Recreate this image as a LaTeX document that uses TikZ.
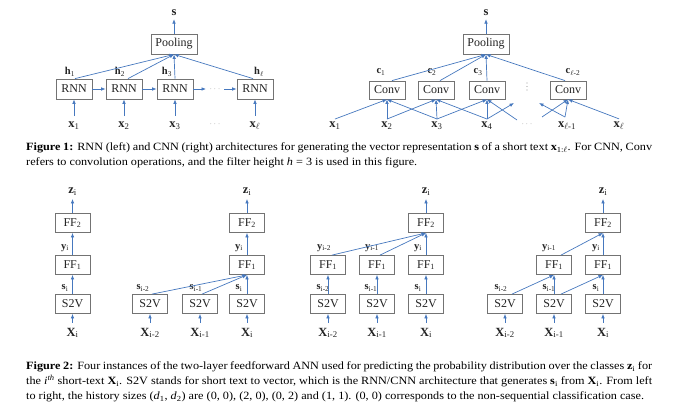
\documentclass[tikz,border=0pt]{standalone}
\usepackage{fontspec}
\setmainfont{Liberation Serif}
\newfontfamily\capfont[FakeStretch=1.1]{Liberation Serif}
\usetikzlibrary{arrows.meta,calc}
\definecolor{arrblue}{RGB}{70,120,190}
\definecolor{boxgray}{RGB}{115,115,115}
\definecolor{txt}{RGB}{35,35,35}
\definecolor{dotgray}{RGB}{160,160,160}
\begin{document}
\begin{tikzpicture}[x=1pt,y=-1pt,
 box/.style={draw=boxgray,line width=0.8pt,inner sep=0pt,minimum height=19pt,minimum width=35pt,font=\fontsize{12}{14}\selectfont,text=txt},
 arr/.style={draw=arrblue,line width=0.7pt,-{Latex[length=4.5pt,width=3.6pt]}},
 biglbl/.style={inner sep=0pt,font=\fontsize{12.5}{14}\selectfont,text=txt},
 smalllbl/.style={inner sep=0pt,font=\fontsize{10.5}{12}\selectfont,text=txt},
 dotlbl/.style={inner sep=0pt,font=\fontsize{9}{10}\selectfont,text=dotgray},
 captext/.style={anchor=north west,inner sep=0pt,text width=626pt,align=justify,font=\capfont\fontsize{11.1}{15}\selectfont,text=black},
]
\useasboundingbox (0,0) rectangle (674,409);

% ---------------- Figure 1 left: RNN ----------------
\node[box,minimum width=46pt,minimum height=20pt] (pl) at (174,44) {Pooling};
\node[biglbl] (sl) at (174,13) {\textbf{s}};
\draw[arr] (pl.north) -- ([yshift=-3pt]sl.south);
\foreach \n/\x in {1/74,2/124,3/175,4/255}
  \node[box,minimum width=36pt,minimum height=20pt] (r\n) at (\x,89) {RNN};
\node[smalllbl] at (70,72) {\textbf{h}\textsubscript{1}};
\node[smalllbl] at (120,72) {\textbf{h}\textsubscript{2}};
\node[smalllbl] at (167,72) {\textbf{h}\textsubscript{3}};
\node[smalllbl] at (259,72) {\textbf{h}\textsubscript{$\ell$}};
\draw[arr] ([xshift=1pt]r1.north) -- (pl.south);
\draw[arr] ([xshift=4pt]r2.north) -- (pl.south);
\draw[arr] (r3.north) -- (pl.south);
\draw[arr] ([xshift=-2pt]r4.north) -- (pl.south);
\draw[arr] (r1.east) -- (r2.west);
\draw[arr] (r2.east) -- (r3.west);
\coordinate (d1) at (206,89);
\coordinate (d2) at (224,89);
\draw[arr] (r3.east) -- (d1);
\node[dotlbl] (dd) at (215,89) {$\cdots$};
\draw[arr] (d2) -- (r4.west);
\node[biglbl] (x1) at (74,126) {\textbf{x}\textsubscript{1}};
\node[biglbl] (x2) at (124,126) {\textbf{x}\textsubscript{2}};
\node[biglbl] (x3) at (175,126) {\textbf{x}\textsubscript{3}};
\node[biglbl] (x4) at (255,126) {\textbf{x}\textsubscript{$\ell$}};
\node[dotlbl] (xd) at (215,124) {$\cdots$};
\foreach \n in {1,2,3,4} \draw[arr] ([yshift=6pt]x\n.north) -- (r\n.south);

% ---------------- Figure 1 right: CNN ----------------
\node[box,minimum width=46pt,minimum height=20pt] (pr) at (486,44) {Pooling};
\node[biglbl] (sr) at (486,13) {\textbf{s}};
\draw[arr] (pr.north) -- ([yshift=-3pt]sr.south);
\foreach \n/\x in {1/387,2/436,3/487,4/568}
  \node[box,minimum width=36pt,minimum height=18pt] (c\n) at (\x,90) {Conv};
\node[smalllbl] at (381,72) {\textbf{c}\textsubscript{1}};
\node[smalllbl] at (432,72) {\textbf{c}\textsubscript{2}};
\node[smalllbl] at (478,72) {\textbf{c}\textsubscript{3}};
\node[smalllbl] at (573,72) {\textbf{c}\textsubscript{$\ell$-2}};
\draw[arr] ([xshift=5pt]c1.north) -- (pr.south);
\draw[arr] ([xshift=4pt]c2.north) -- (pr.south);
\draw[arr] (c3.north) -- (pr.south);
\draw[arr] ([xshift=-3pt]c4.north) -- (pr.south);
\foreach \yy in {83,86.5,90} \fill[dotgray] (527,\yy) circle (0.55pt);
\node[biglbl] (y1) at (335,126) {\textbf{x}\textsubscript{1}};
\node[biglbl] (y2) at (387,126) {\textbf{x}\textsubscript{2}};
\node[biglbl] (y3) at (437,126) {\textbf{x}\textsubscript{3}};
\node[biglbl] (y4) at (487,126) {\textbf{x}\textsubscript{4}};
\node[dotlbl] (yd) at (527,124) {$\cdots$};
\node[biglbl] (y5) at (567,126) {\textbf{x}\textsubscript{$\ell$-1}};
\node[biglbl] (y6) at (619,126) {\textbf{x}\textsubscript{$\ell$}};
\coordinate (p1) at ([yshift=3pt]y1.north);
\coordinate (p2) at ([yshift=3pt]y2.north);
\coordinate (p3) at ([yshift=3pt]y3.north);
\coordinate (p4) at ([yshift=3pt]y4.north);
\coordinate (p5) at (565,117);
\coordinate (p6) at ([yshift=3pt]y6.north);
\coordinate (f1) at (514,103);
\coordinate (f2) at (517,120);
\coordinate (f3) at (542,117);
\coordinate (f4) at (539,103);
\draw[arr] (p1) -- (c1.south);
\draw[arr] (p2) -- (c1.south);
\draw[arr] (p3) -- (c1.south);
\draw[arr] (p2) -- (c2.south);
\draw[arr] (p3) -- (c2.south);
\draw[arr] (p4) -- (c2.south);
\draw[arr] (p3) -- (c3.south);
\draw[arr] (p4) -- (c3.south);
\draw[arr] (f2) -- (c3.south);
\draw[arr] (p4) -- (f1);
\draw[arr] (f3) -- (c4.south);
\draw[arr] (p5) -- (c4.south);
\draw[arr] (p6) -- (c4.south);
\draw[arr] (p5) -- (f4);

% ---------------- Figure 1 caption ----------------
\node[captext] (cap1) at (26,142.5) {\textbf{Figure 1:} RNN (left) and CNN (right) architectures for generating the vector representation \textbf{s} of a short text \textbf{x}\textsubscript{1:$\ell$}. For CNN, Conv\linebreak refers to convolution operations, and the filter height \textit{h} = 3 is used in this figure.};

% ---------------- Figure 2 panel 1 ----------------
\node[box] (a2) at (72.5,223) {FF\textsubscript{2}};
\node[box] (a1) at (72.5,265) {FF\textsubscript{1}};
\node[box] (a0) at (72.5,304) {S2V};
\node[biglbl] (az) at (72.5,192) {\textbf{z}\textsubscript{i}};
\node[biglbl] (ax) at (72.5,333) {\textbf{X}\textsubscript{i}};
\node[smalllbl] at (65,248) {\textbf{y}\textsubscript{i}};
\node[smalllbl] at (65,288) {\textbf{s}\textsubscript{i}};
\draw[arr] ([yshift=5pt]ax.north) -- (a0.south);
\draw[arr] (a0.north) -- (a1.south);
\draw[arr] (a1.north) -- (a2.south);
\draw[arr] (a2.north) -- ([yshift=-3pt]az.south);

% ---------------- Figure 2 panel 2 ----------------
\node[box] (b2) at (247,223) {FF\textsubscript{2}};
\node[box] (b1) at (247,265) {FF\textsubscript{1}};
\node[box] (bs2) at (150,304) {S2V};
\node[box] (bs1) at (200,304) {S2V};
\node[box] (bs0) at (247,304) {S2V};
\node[biglbl] (bz) at (247,192) {\textbf{z}\textsubscript{i}};
\node[biglbl] (bx2) at (150,333) {\textbf{X}\textsubscript{i-2}};
\node[biglbl] (bx1) at (200,333) {\textbf{X}\textsubscript{i-1}};
\node[biglbl] (bx0) at (247,333) {\textbf{X}\textsubscript{i}};
\node[smalllbl] at (239,248) {\textbf{y}\textsubscript{i}};
\node[smalllbl] at (143,288) {\textbf{s}\textsubscript{i-2}};
\node[smalllbl] at (196,288) {\textbf{s}\textsubscript{i-1}};
\node[smalllbl] at (239,288) {\textbf{s}\textsubscript{i}};
\foreach \n in {2,1,0} \draw[arr] ([yshift=5pt]bx\n.north) -- (bs\n.south);
\draw[arr] ([xshift=2pt]bs2.north) -- (b1.south);
\draw[arr] ([xshift=2pt]bs1.north) -- (b1.south);
\draw[arr] (bs0.north) -- (b1.south);
\draw[arr] (b1.north) -- (b2.south);
\draw[arr] (b2.north) -- ([yshift=-3pt]bz.south);

% ---------------- Figure 2 panel 3 ----------------
\node[box] (c2f) at (426,223) {FF\textsubscript{2}};
\node[box] (cf2) at (328,265) {FF\textsubscript{1}};
\node[box] (cf1) at (377,265) {FF\textsubscript{1}};
\node[box] (cf0) at (426,265) {FF\textsubscript{1}};
\node[box] (cs2) at (328,304) {S2V};
\node[box] (cs1) at (377,304) {S2V};
\node[box] (cs0) at (426,304) {S2V};
\node[biglbl] (cz) at (426,192) {\textbf{z}\textsubscript{i}};
\node[biglbl] (cx2) at (328,333) {\textbf{X}\textsubscript{i-2}};
\node[biglbl] (cx1) at (377,333) {\textbf{X}\textsubscript{i-1}};
\node[biglbl] (cx0) at (426,333) {\textbf{X}\textsubscript{i}};
\node[smalllbl] at (324,248) {\textbf{y}\textsubscript{i-2}};
\node[smalllbl] at (372,248) {\textbf{y}\textsubscript{i-1}};
\node[smalllbl] at (418,248) {\textbf{y}\textsubscript{i}};
\node[smalllbl] at (323,288) {\textbf{s}\textsubscript{i-2}};
\node[smalllbl] at (371,288) {\textbf{s}\textsubscript{i-1}};
\node[smalllbl] at (418,288) {\textbf{s}\textsubscript{i}};
\foreach \n in {2,1,0} {
  \draw[arr] ([yshift=5pt]cx\n.north) -- (cs\n.south);
  \draw[arr] (cs\n.north) -- (cf\n.south);
}
\draw[arr] ([xshift=4pt]cf2.north) -- (c2f.south);
\draw[arr] ([xshift=3pt]cf1.north) -- (c2f.south);
\draw[arr] (cf0.north) -- (c2f.south);
\draw[arr] (c2f.north) -- ([yshift=-3pt]cz.south);

% ---------------- Figure 2 panel 4 ----------------
\node[box] (d2f) at (603,223) {FF\textsubscript{2}};
\node[box] (df1) at (554,265) {FF\textsubscript{1}};
\node[box] (df0) at (603,265) {FF\textsubscript{1}};
\node[box] (ds2) at (505,304) {S2V};
\node[box] (ds1) at (554,304) {S2V};
\node[box] (ds0) at (603,304) {S2V};
\node[biglbl] (dz) at (603,192) {\textbf{z}\textsubscript{i}};
\node[biglbl] (dx2) at (505,333) {\textbf{X}\textsubscript{i-2}};
\node[biglbl] (dx1) at (554,333) {\textbf{X}\textsubscript{i-1}};
\node[biglbl] (dx0) at (603,333) {\textbf{X}\textsubscript{i}};
\node[smalllbl] at (549,248) {\textbf{y}\textsubscript{i-1}};
\node[smalllbl] at (596,248) {\textbf{y}\textsubscript{i}};
\node[smalllbl] at (501,288) {\textbf{s}\textsubscript{i-2}};
\node[smalllbl] at (549,288) {\textbf{s}\textsubscript{i-1}};
\node[smalllbl] at (596,288) {\textbf{s}\textsubscript{i}};
\foreach \n in {2,1,0} \draw[arr] ([yshift=5pt]dx\n.north) -- (ds\n.south);
\draw[arr] (ds1.north) -- (df1.south);
\draw[arr] (ds0.north) -- (df0.south);
\draw[arr] ([xshift=7pt]ds2.north) -- (df1.south);
\draw[arr] ([xshift=7pt]ds1.north) -- (df0.south);
\draw[arr] ([xshift=7pt]df1.north) -- (d2f.south);
\draw[arr] (df0.north) -- (d2f.south);
\draw[arr] (d2f.north) -- ([yshift=-3pt]dz.south);

% ---------------- Figure 2 caption ----------------
\node[captext] (cap2) at (26,361.5) {\textbf{Figure 2:} Four instances of the two-layer feedforward ANN used for predicting the probability distribution over the classes \textbf{z}\textsubscript{i} for\linebreak the \textit{i}\textsuperscript{\textit{th}} short-text \textbf{X}\textsubscript{i}. S2V stands for short text to vector, which is the RNN/CNN architecture that generates \textbf{s}\textsubscript{i} from \textbf{X}\textsubscript{i}. From left\linebreak to right, the history sizes (\textit{d}\textsubscript{1}, \textit{d}\textsubscript{2}) are (0, 0), (2, 0), (0, 2) and (1, 1). (0, 0) corresponds to the non-sequential classification case.};
\end{tikzpicture}
\end{document}
